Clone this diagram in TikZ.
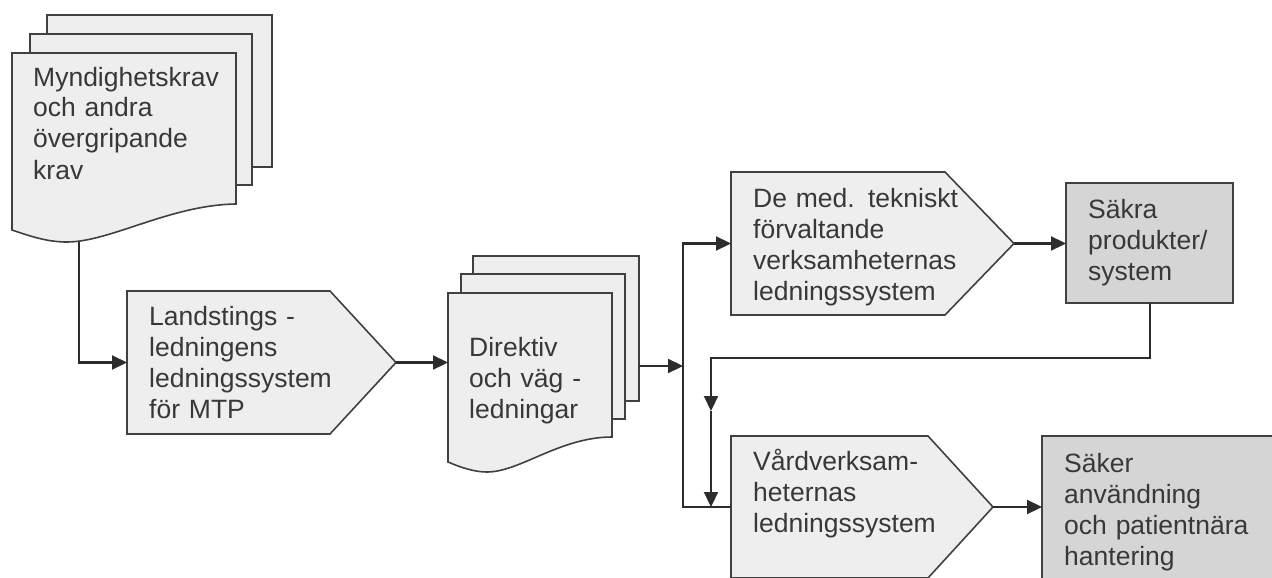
\documentclass[tikz,border=0pt]{standalone}
\usepackage{fontspec}
\setmainfont{Liberation Sans}
\usetikzlibrary{arrows.meta}
\definecolor{shlight}{HTML}{EEEEEE}
\definecolor{shdark}{HTML}{D5D5D5}
\definecolor{edgec}{HTML}{404040}
\definecolor{txtc}{HTML}{383838}
\definecolor{connc}{HTML}{2C2C2C}
\tikzset{
  shapelight/.style={draw=edgec, fill=shlight, line width=1.6pt, line join=miter},
  shapedark/.style={draw=edgec, fill=shdark, line width=1.6pt},
  txtnode/.style={anchor=base west, inner sep=0pt, text width=260pt, align=left, text=txtc, font=\fontsize{26.5}{31}\selectfont},
  conn/.style={draw=connc, line width=2.2pt},
  arr/.style={conn, -{Triangle[length=15pt,width=14pt]}},
}
\begin{document}
\begin{tikzpicture}[x=1pt,y=-1pt]
\useasboundingbox (0,0) rectangle (1272,578);

% Document stack 1
\path[shapelight] (47,15) rectangle (272,167);
\path[shapelight] (30,34) rectangle (252,185);
\path[shapelight] (12,53) -- (236,53) -- (236,204) .. controls (170,205) and (110,242) .. (67,242) .. controls (50,242) and (35,238) .. (12,230) -- cycle;
\node[txtnode] (myn) at (33,86) {Myndighetskrav\\och andra\\övergripande\\krav};
\coordinate (myn-out) at (79,241.5);

% Landsting pentagon
\path[shapelight] (127,291) -- (330,291) -- (396,362.5) -- (330,434) -- (127,434) -- cycle;
\node[txtnode] (lan) at (149,325) {Landstings -\\ledningens\\ledningssystem\\för MTP};
\coordinate (lan-in) at (127,362.5);
\coordinate (lan-out) at (396,362.5);

% Document stack 2
\path[shapelight] (473,256) rectangle (639,401);
\path[shapelight] (461,274) rectangle (625,419);
\path[shapelight] (448,293) -- (612,293) -- (612,437) .. controls (560,437) and (520,472) .. (487,472) .. controls (475,472) and (462,468) .. (448,462) -- cycle;
\node[txtnode] (dir) at (469,356) {Direktiv\\och väg -\\ledningar};
\coordinate (dir-in) at (448,362.5);
\coordinate (dir-out) at (639,366);
\coordinate (split) at (683,366);

% De med. pentagon
\path[shapelight] (731,172) -- (945,172) -- (1014,243.5) -- (945,315) -- (731,315) -- cycle;
\node[txtnode] (dem) at (753,207) {De med. tekniskt\\förvaltande\\verksamheternas\\ledningssystem};
\coordinate (dem-in) at (731,243.5);
\coordinate (dem-out) at (1014,243.5);

% Säkra produkter box
\path[shapedark] (1066,183) rectangle (1233,303);
\node[txtnode] (sak) at (1088,218) {Säkra\\produkter/\\system};
\coordinate (sak-in) at (1066,243.5);
\coordinate (sak-out) at (1150,303);
\coordinate (loop-c) at (711,358);
\coordinate (loop-m) at (711,411);

% Vårdverksamheternas pentagon
\path[shapelight] (731,436) -- (928,436) -- (993,507) -- (928,578) -- (731,578) -- cycle;
\node[txtnode] (vard) at (753,470) {Vårdverksam-\\heternas\\ledningssystem};
\coordinate (vard-in) at (731,507);
\coordinate (vard-join) at (711,507);
\coordinate (vard-out) at (993,507);

% Säker användning box
\path[shapedark] (1042,436) rectangle (1273,579);
\node[txtnode] (saker) at (1064,472) {Säker\\användning\\och patientnära\\hantering};
\coordinate (saker-in) at (1042,507);

% Connectors
\draw[arr] (myn-out) |- (lan-in);
\draw[arr] (lan-out) -- (dir-in);
\draw[arr] (dir-out) -- (split);
\draw[arr] (split) |- (dem-in);
\draw[conn] (split) |- (vard-in);
\draw[arr] (dem-out) -- (sak-in);
\draw[arr] (sak-out) |- (loop-c) -- (loop-m);
\draw[arr] (loop-m) -- (vard-join);
\draw[arr] (vard-out) -- (saker-in);
\end{tikzpicture}
\end{document}
